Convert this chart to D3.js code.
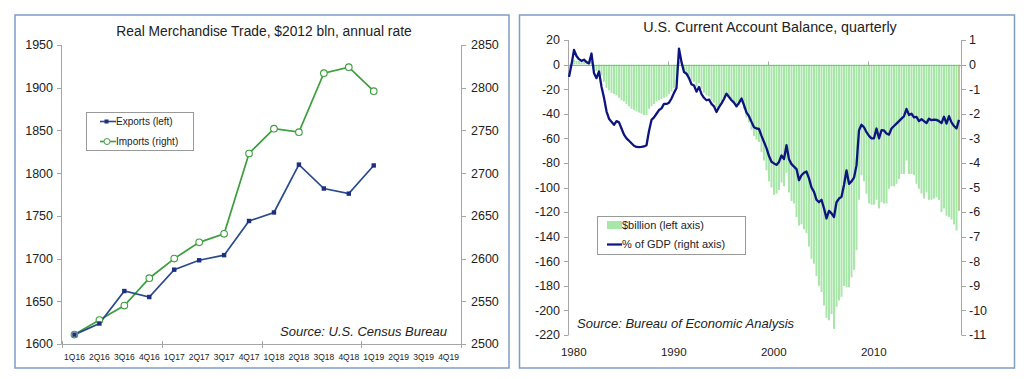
<!DOCTYPE html>
<html>
<head>
<meta charset="utf-8" />
<title>Trade and Current Account</title>
<script src="https://d3js.org/d3.v7.min.js"></script>
<style>
html, body { margin:0; padding:0; background:#ffffff; }
svg { display:block; font-family: Arial, "Liberation Sans", sans-serif; }
</style>
</head>
<body>
<script>
// ---- left chart data ----
var tradeQuarters = ["1Q16","2Q16","3Q16","4Q16","1Q17","2Q17","3Q17","4Q17",
                     "1Q18","2Q18","3Q18","4Q18","1Q19","2Q19","3Q19","4Q19"];
var exportsLeft  = [1611,1624,1662,1655,1687,1698,1704,1744,1754,1810,1782,1776,1809];
var importsRight = [2511,2528,2545,2577,2600,2619,2629,2723,2752,2748,2817,2824,2796];
var tradeLeftTicks  = [1600,1650,1700,1750,1800,1850,1900,1950];
var tradeRightTicks = [2500,2550,2600,2650,2700,2750,2800,2850];

// ---- right chart data (quarterly, 1980Q1 .. 2019Q1) ----
var caStartYear = 1980;
var caYearLabels = [1980,1990,2000,2010];
var caBillion = [
  -3,1,4,3, 3,2,2,1,
  1,3,-3,-5, -6,-9,-14,-19, -21,-23,-24,-25, -27,-29,-30,-32,
  -34,-36,-37,-38, -39,-40,-41,-41, -36,-34,-32,-30, -29,-28,-27,-26,
  -24,-22,-19,-14, 3,-1,-6,-8, -9,-13,-14,-18, -15,-20,-23,-25,
  -26,-29,-31,-35, -33,-30,-27,-23, -26,-29,-31,-34, -33,-30,-36,-43,
  -47,-53,-58,-61, -63,-71,-78,-86, -95,-100,-106,-105, -102,-96,-99,-88,
  -104,-111,-113,-124, -131,-130,-134,-137, -148,-158,-162,-172, -180,-185,-196,-206,
  -208,-203,-215,-197, -192,-189,-180,-181, -181,-173,-167,-151, -110,-90,-95,-105,
  -113,-114,-114,-110, -117,-112,-113,-113, -101,-99,-99,-97, -93,-89,-89,-78,
  -89,-89,-90,-97, -101,-105,-109,-104, -110,-110,-109,-108, -110,-120,-117,-123,
  -124,-126,-130,-135, -119
];
var caPctGdp = [
  -0.50,0.00,0.60,0.35, 0.22,0.15,0.20,0.10,
  0.05,0.45,-0.35,-0.55, -0.28,-0.90,-1.35,-1.90, -2.20,-2.33,-2.45,-2.30, -2.35,-2.60,-2.85,-3.00,
  -3.10,-3.20,-3.30,-3.35, -3.36,-3.35,-3.33,-3.28, -2.70,-2.25,-2.15,-2.00, -1.85,-1.78,-1.60,-1.60,
  -1.55,-1.38,-1.15,-0.95, 0.65,0.10,-0.30,-0.37, -0.55,-0.80,-0.85,-1.10, -0.91,-1.20,-1.35,-1.45,
  -1.42,-1.60,-1.70,-1.93, -1.73,-1.58,-1.40,-1.18, -1.32,-1.45,-1.55,-1.70, -1.56,-1.38,-1.65,-1.95,
  -2.10,-2.33,-2.55,-2.60, -2.62,-2.90,-3.15,-3.40, -3.72,-3.95,-4.02,-4.08, -3.96,-3.70,-3.84,-3.28,
  -3.85,-4.05,-4.15,-4.25, -4.70,-4.50,-4.40,-4.35, -4.63,-5.00,-5.18,-5.50, -5.60,-5.50,-5.85,-6.26,
  -5.95,-6.05,-6.20,-5.60, -5.45,-5.38,-4.90,-4.30, -4.85,-4.75,-4.60,-4.10, -2.67,-2.45,-2.55,-2.75,
  -2.90,-3.00,-3.00,-2.60, -3.00,-2.67,-2.68,-2.80, -2.85,-2.60,-2.50,-2.40, -2.30,-2.20,-2.10,-1.80,
  -2.05,-2.00,-2.15,-2.13, -2.30,-2.22,-2.30,-2.38, -2.20,-2.26,-2.24,-2.25, -2.30,-2.38,-2.12,-2.40,
  -2.10,-2.35,-2.50,-2.60, -2.25
];
var caLeftTicks  = [20,0,-20,-40,-60,-80,-100,-120,-140,-160,-180,-200,-220];
var caRightTicks = [1,0,-1,-2,-3,-4,-5,-6,-7,-8,-9,-10,-11];

var W = 1031, H = 379;
var axisGray = "#a6a6a6";
var txt = "#222";

var svg = d3.select("body").append("svg")
  .attr("width", W).attr("height", H);

// panel frames
svg.append("rect").attr("x",15).attr("y",15).attr("width",494).attr("height",353)
  .attr("fill","none").attr("stroke","#7f9cc6").attr("stroke-width",1.5);
svg.append("rect").attr("x",519.5).attr("y",15).attr("width",495).attr("height",353)
  .attr("fill","none").attr("stroke","#7f9cc6").attr("stroke-width",1.5);

/////////////// left chart ///////////////
var lx = d3.scaleBand().domain(tradeQuarters).range([62,461]);
var lyL = d3.scaleLinear().domain([1600,1950]).range([344,45]);
var lyR = d3.scaleLinear().domain([2500,2850]).range([344,45]);

var g1 = svg.append("g");

g1.append("text").attr("x",264).attr("y",31).attr("dy","0.35em")
  .attr("text-anchor","middle").attr("font-size",13.8).attr("fill",txt)
  .text("Real Merchandise Trade, $2012 bln, annual rate");

// axes lines
g1.append("line").attr("x1",61.5).attr("x2",61.5).attr("y1",lyL(1950)).attr("y2",lyL(1600))
  .attr("stroke",axisGray);
g1.append("line").attr("x1",461.5).attr("x2",461.5).attr("y1",lyL(1950)).attr("y2",lyL(1600))
  .attr("stroke",axisGray);
g1.append("line").attr("x1",61.5).attr("x2",461.5).attr("y1",344.5).attr("y2",344.5)
  .attr("stroke",axisGray);

tradeLeftTicks.forEach(function(v){
  var y = Math.round(lyL(v)) + 0.5;
  g1.append("line").attr("x1",57).attr("x2",61.5).attr("y1",y).attr("y2",y).attr("stroke",axisGray);
  g1.append("text").attr("x",53).attr("y",lyL(v)).attr("dy","0.35em").attr("text-anchor","end")
    .attr("font-size",12.5).attr("fill",txt).text(v);
});
tradeRightTicks.forEach(function(v){
  var y = Math.round(lyR(v)) + 0.5;
  g1.append("line").attr("x1",461.5).attr("x2",466).attr("y1",y).attr("y2",y).attr("stroke",axisGray);
  g1.append("text").attr("x",471).attr("y",lyR(v)).attr("dy","0.35em").attr("text-anchor","start")
    .attr("font-size",12.5).attr("fill",txt).text(v);
});
// year ticks on the category axis
[0,4,8,12,16].forEach(function(k){
  var x = Math.round(lx.range()[0] + k*lx.step()) + 0.5;
  g1.append("line").attr("x1",x).attr("x2",x).attr("y1",341).attr("y2",348).attr("stroke",axisGray);
});
tradeQuarters.forEach(function(q){
  g1.append("text").attr("x",lx(q)+lx.bandwidth()/2).attr("y",357).attr("dy","0.35em")
    .attr("text-anchor","middle").attr("font-size",8.5).attr("fill",txt).text(q);
});

var cx = function(d,i){ return lx(tradeQuarters[i]) + lx.bandwidth()/2; };

g1.append("path").datum(importsRight)
  .attr("fill","none").attr("stroke","#3c9e3c").attr("stroke-width",1.7)
  .attr("d", d3.line().x(cx).y(function(d){ return lyR(d); }));
g1.append("path").datum(exportsLeft)
  .attr("fill","none").attr("stroke","#2a4a8e").attr("stroke-width",1.7)
  .attr("d", d3.line().x(cx).y(function(d){ return lyL(d); }));

g1.selectAll(".imp").data(importsRight).enter().append("circle")
  .attr("cx",cx).attr("cy",function(d){ return lyR(d); }).attr("r",3.3)
  .attr("fill","#fff").attr("stroke","#3c9e3c").attr("stroke-width",1.1);
g1.selectAll(".exp").data(exportsLeft).enter().append("rect")
  .attr("x",function(d,i){ return cx(d,i)-2.2; }).attr("y",function(d){ return lyL(d)-2.2; })
  .attr("width",4.4).attr("height",4.4).attr("fill","#1c2f80");

// legend
g1.append("rect").attr("x",86.5).attr("y",112.5).attr("width",107).attr("height",38)
  .attr("fill","#fff").attr("stroke","#999");
g1.append("line").attr("x1",100).attr("x2",116).attr("y1",121.5).attr("y2",121.5)
  .attr("stroke","#2a4a8e").attr("stroke-width",1.6);
g1.append("rect").attr("x",104.5).attr("y",119.5).attr("width",4).attr("height",4).attr("fill","#1c2f80");
g1.append("text").attr("x",116).attr("y",121.5).attr("dy","0.35em").attr("font-size",10)
  .attr("fill",txt).text("Exports (left)");
g1.append("line").attr("x1",100).attr("x2",116).attr("y1",141.5).attr("y2",141.5)
  .attr("stroke","#3c9e3c").attr("stroke-width",1.6);
g1.append("circle").attr("cx",107).attr("cy",141.5).attr("r",3).attr("fill","#fff")
  .attr("stroke","#3c9e3c").attr("stroke-width",1);
g1.append("text").attr("x",116).attr("y",141.5).attr("dy","0.35em").attr("font-size",10)
  .attr("fill",txt).text("Imports (right)");

g1.append("text").attr("x",447).attr("y",331).attr("dy","0.35em").attr("text-anchor","end")
  .attr("font-size",13).attr("font-style","italic").attr("fill",txt)
  .text("Source: U.S. Census Bureau");

/////////////// right chart ///////////////
var n = caBillion.length;
var rx = d3.scaleLinear().domain([0, n-1]).range([569, 959]);
var step = rx(1) - rx(0);
var ryL = d3.scaleLinear().domain([-220,20]).range([335,40]);
var ryR = d3.scaleLinear().domain([-11,1]).range([335,40]);

var g2 = svg.append("g");

g2.append("text").attr("x",770).attr("y",27).attr("dy","0.35em")
  .attr("text-anchor","middle").attr("font-size",14.3).attr("fill",txt)
  .text("U.S. Current Account Balance, quarterly");

// bars
g2.selectAll(".bar").data(caBillion).enter().append("rect")
  .attr("x",function(d,i){ return rx(i) - step/2 + 0.25; })
  .attr("width", step - 0.5)
  .attr("y",function(d){ return ryL(Math.max(0,d)); })
  .attr("height",function(d){ return Math.abs(ryL(d) - ryL(0)); })
  .attr("fill",function(d,i){ return i == n-1 ? "#b9cc95" : "#a9e6a9"; });

// axes
g2.append("line").attr("x1",568.5).attr("x2",568.5).attr("y1",40).attr("y2",335).attr("stroke",axisGray);
g2.append("line").attr("x1",961.5).attr("x2",961.5).attr("y1",40).attr("y2",335).attr("stroke",axisGray);
var y0 = Math.round(ryL(0)) + 0.5;
g2.append("line").attr("x1",568.5).attr("x2",961.5).attr("y1",y0).attr("y2",y0).attr("stroke",axisGray);

caLeftTicks.forEach(function(v){
  var y = Math.round(ryL(v)) + 0.5;
  g2.append("line").attr("x1",564).attr("x2",568.5).attr("y1",y).attr("y2",y).attr("stroke",axisGray);
  g2.append("text").attr("x",560).attr("y",ryL(v)).attr("dy","0.35em").attr("text-anchor","end")
    .attr("font-size",12.5).attr("fill",txt).text(v);
});
caRightTicks.forEach(function(v){
  var y = Math.round(ryR(v)) + 0.5;
  g2.append("line").attr("x1",961.5).attr("x2",966).attr("y1",y).attr("y2",y).attr("stroke",axisGray);
  g2.append("text").attr("x",969).attr("y",ryR(v)).attr("dy","0.35em").attr("text-anchor","start")
    .attr("font-size",12.5).attr("fill",txt).text(v);
});
caYearLabels.forEach(function(yr){
  var k = (yr - caStartYear) * 4;
  var x = rx(k) - step/2;
  if (k > 0) {
    g2.append("line").attr("x1",Math.round(x)+0.5).attr("x2",Math.round(x)+0.5)
      .attr("y1",y0-4).attr("y2",y0).attr("stroke",axisGray);
  }
  g2.append("text").attr("x",x + 6).attr("y",352).attr("dy","0.35em").attr("text-anchor","middle")
    .attr("font-size",11.5).attr("fill",txt).text(yr);
});

// % of GDP line
g2.append("path").datum(caPctGdp)
  .attr("fill","none").attr("stroke","#0d1480").attr("stroke-width",2.3)
  .attr("stroke-linejoin","round")
  .attr("d", d3.line().x(function(d,i){ return rx(i); }).y(function(d){ return ryR(d); }));

// legend
g2.append("rect").attr("x",597.5).attr("y",216.5).attr("width",148).attr("height",38)
  .attr("fill","#fff").attr("stroke","#999");
g2.append("rect").attr("x",607).attr("y",221).attr("width",15).attr("height",8).attr("fill","#a9e6a9");
g2.append("text").attr("x",622).attr("y",225.5).attr("dy","0.35em").attr("font-size",11)
  .attr("fill",txt).text("$billion (left axis)");
g2.append("line").attr("x1",607).attr("x2",622).attr("y1",244.5).attr("y2",244.5)
  .attr("stroke","#0d1480").attr("stroke-width",2.2);
g2.append("text").attr("x",622).attr("y",244.5).attr("dy","0.35em").attr("font-size",11)
  .attr("fill",txt).text("% of GDP (right axis)");

g2.append("text").attr("x",577).attr("y",323).attr("dy","0.35em")
  .attr("font-size",13).attr("font-style","italic").attr("fill",txt)
  .text("Source: Bureau of Economic Analysis");
</script>
</body>
</html>
